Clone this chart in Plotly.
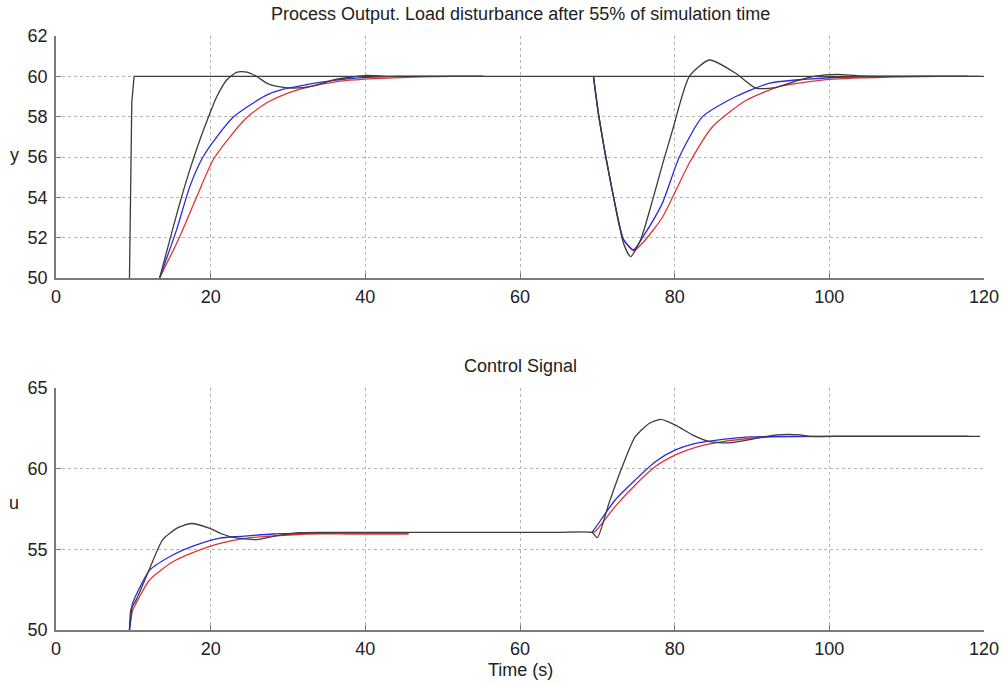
import plotly.graph_objects as go
from plotly.subplots import make_subplots

# ---- Process output (top panel) ----
t_setpoint = [9.5, 9.6, 9.8, 10.1, 120.0]
y_setpoint = [50.0, 54.0, 58.7, 60.0, 60.0]

t_y1_a = [13.4, 16.0, 17.3, 18.6, 19.9, 20.8, 22.1, 23.4, 24.7, 26.0, 27.3, 28.6, 30.7, 33.3, 35.9, 38.5, 40.2, 42.9, 47.0, 51.0, 55.0]
y_y1_a = [50.0, 53.7, 55.36, 56.84, 58.17, 59.0, 59.83, 60.21, 60.21, 59.98, 59.65, 59.5, 59.42, 59.53, 59.83, 59.98, 60.05, 60.0, 60.0, 60.0, 60.0]
t_y2_a = [13.4, 15.6, 17.3, 19.0, 20.8, 22.9, 25.1, 27.3, 29.4, 31.6, 35.9, 40.2, 44.5, 50.0, 55.3]
y_y2_a = [50.0, 52.4, 54.53, 56.0, 57.0, 57.97, 58.58, 59.08, 59.36, 59.53, 59.8, 59.95, 60.0, 60.0, 60.0]
t_y3_a = [13.4, 16.0, 18.2, 20.3, 22.5, 24.7, 27.3, 29.9, 33.3, 37.7, 42.1, 47.3, 51.0, 55.4]
y_y3_a = [50.0, 52.05, 54.03, 55.85, 57.0, 57.97, 58.7, 59.16, 59.53, 59.8, 59.9, 59.97, 60.0, 60.0]

t_y1_b = [69.5, 70.2, 71.9, 73.4, 74.3, 75.6, 77.1, 78.4, 79.7, 81.9, 84.5, 87.9, 90.5, 93.1, 96.0, 98.0, 101.0, 104.0, 110.0, 115.0, 119.5]
y_y1_b = [60.0, 58.0, 54.4, 51.7, 51.06, 51.9, 53.8, 55.6, 57.3, 60.0, 60.81, 60.15, 59.41, 59.45, 59.8, 60.0, 60.1, 60.02, 60.0, 60.0, 60.0]
t_y2_b = [69.5, 70.2, 71.9, 73.4, 74.7, 76.0, 78.4, 80.6, 83.6, 87.9, 92.3, 100.0, 108.0, 113.0, 118.0]
y_y2_b = [60.0, 58.0, 54.4, 51.9, 51.4, 52.1, 53.7, 56.0, 58.0, 59.0, 59.66, 59.93, 60.0, 60.0, 60.0]
t_y3_b = [69.5, 70.2, 71.9, 73.4, 74.7, 76.0, 78.4, 81.9, 84.9, 89.2, 93.6, 100.0, 110.0, 114.0, 118.0]
y_y3_b = [60.0, 58.0, 54.4, 51.9, 51.35, 51.8, 53.0, 55.7, 57.5, 58.8, 59.5, 59.85, 59.98, 60.0, 60.0]

# ---- Control signal (bottom panel) ----
t_u1 = [9.5, 9.7, 10.4, 12.1, 13.8, 15.6, 17.5, 19.9, 21.5, 22.9, 26.0, 28.1, 31.6, 35.0, 40.0, 45.0, 50.0,
        55.0, 60.0, 65.0, 69.3, 70.0, 71.5, 73.2, 74.9, 76.7, 78.2, 80.1, 82.3, 84.5, 87.1, 89.7, 93.2, 96.2,
        97.5, 102.0, 107.0, 113.0, 119.5]
u_u1 = [50.0, 51.3, 51.9, 53.8, 55.6, 56.3, 56.6, 56.3, 55.95, 55.74, 55.6, 55.8, 56.03, 56.05, 56.05, 56.05, 56.05,
        56.05, 56.05, 56.05, 56.05, 55.72, 57.85, 60.1, 61.98, 62.8, 63.06, 62.7, 62.09, 61.67, 61.6, 61.8, 62.1, 62.1,
        62.0, 62.0, 62.0, 62.0, 62.0]
t_u2_a = [9.5, 9.8, 9.9, 12.1, 15.1, 17.7, 21.2, 23.8, 28.1, 32.0, 38.0, 45.6]
u_u2_a = [50.0, 51.3, 51.65, 53.7, 54.65, 55.2, 55.7, 55.8, 55.95, 56.0, 56.02, 56.02]
t_u3_a = [9.5, 9.8, 9.9, 12.1, 15.1, 17.7, 21.2, 24.7, 28.1, 32.5, 38.0, 45.6]
u_u3_a = [50.0, 51.0, 51.2, 53.1, 54.23, 54.8, 55.37, 55.7, 55.83, 55.95, 55.95, 55.95]
t_u2_b = [69.3, 69.7, 72.3, 74.9, 77.5, 80.1, 82.7, 86.2, 89.7, 93.2, 100.0, 108.0, 118.0]
u_u2_b = [56.05, 56.3, 58.06, 59.3, 60.43, 61.16, 61.57, 61.82, 61.97, 62.0, 62.0, 62.0, 62.0]
t_u3_b = [69.3, 69.7, 72.3, 74.9, 77.5, 80.1, 82.7, 86.2, 89.7, 93.2, 100.0, 108.0, 118.0]
u_u3_b = [56.05, 56.1, 57.65, 58.99, 60.13, 60.85, 61.32, 61.67, 61.87, 61.97, 62.0, 62.0, 62.0]

x_ticks = [0, 20, 40, 60, 80, 100, 120]
y_ticks_top = [50, 52, 54, 56, 58, 60, 62]
y_ticks_bottom = [50, 55, 60, 65]

GRAY = "#3c3c3c"
BLUE = "#2a2ae0"
RED = "#e03434"
AXIS = "#7a7a7a"
GRID = "#b4b4b4"
FONT = "Liberation Sans, Arial, sans-serif"

fig = make_subplots(rows=2, cols=1)


def add_line(x, y, color, row, smooth=True):
    fig.add_trace(go.Scatter(
        x=x, y=y, mode="lines",
        line=dict(color=color, width=1.3,
                  shape="spline" if smooth else "linear", smoothing=0.6),
        showlegend=False, hoverinfo="skip"), row=row, col=1)


# top panel
add_line(t_y3_a, y_y3_a, RED, 1)
add_line(t_y2_a, y_y2_a, BLUE, 1)
add_line(t_y3_b, y_y3_b, RED, 1)
add_line(t_y2_b, y_y2_b, BLUE, 1)
add_line(t_y1_a, y_y1_a, GRAY, 1)
add_line(t_y1_b, y_y1_b, GRAY, 1)
add_line(t_setpoint, y_setpoint, GRAY, 1, smooth=False)

# bottom panel
add_line(t_u3_a, u_u3_a, RED, 2)
add_line(t_u2_a, u_u2_a, BLUE, 2)
add_line(t_u3_b, u_u3_b, RED, 2)
add_line(t_u2_b, u_u2_b, BLUE, 2)
add_line(t_u1, u_u1, GRAY, 2)

axis_common = dict(
    showline=True, linecolor=AXIS, linewidth=1.5,
    showgrid=True, gridcolor=GRID, griddash="dot", gridwidth=1,
    ticks="inside", ticklen=5, tickcolor=AXIS, tickwidth=1,
    zeroline=False, mirror=False, automargin=False,
    tickfont=dict(family=FONT, size=18, color="#222222"),
)

H = 684.0
fig.update_xaxes(axis_common, range=[0, 120], tickvals=x_ticks, ticklabelstandoff=2)
fig.update_yaxes(axis_common, ticklabelstandoff=3)
fig.update_yaxes(range=[50, 62], tickvals=y_ticks_top,
                 domain=[(H - 278) / H, (H - 36) / H], row=1, col=1)
fig.update_yaxes(range=[50, 65], tickvals=y_ticks_bottom,
                 domain=[(H - 630) / H, (H - 388) / H], row=2, col=1)

text_font = dict(family=FONT, size=18, color="#222222")
annotations = [
    dict(text="Process Output. Load disturbance after 55% of simulation time",
         x=0.5, y=(H - 14) / H),
    dict(text="Control Signal", x=0.5, y=(H - 366) / H),
    dict(text="Time (s)", x=0.5, y=(H - 670) / H),
]
for a in annotations:
    fig.add_annotation(xref="paper", yref="paper", showarrow=False,
                       xanchor="center", yanchor="middle", font=text_font, **a)
fig.add_annotation(text="y", xref="paper", yref="paper", x=-42 / 928, y=(H - 155) / H,
                   showarrow=False, xanchor="center", yanchor="middle", font=text_font)
fig.add_annotation(text="u", xref="paper", yref="paper", x=-42 / 928, y=(H - 503) / H,
                   showarrow=False, xanchor="center", yanchor="middle", font=text_font)

fig.update_layout(
    width=1005, height=684,
    margin=dict(l=56, r=21, t=0, b=0, autoexpand=False),
    paper_bgcolor="white", plot_bgcolor="white",
    font=text_font,
)

fig.write_html("out.html")
